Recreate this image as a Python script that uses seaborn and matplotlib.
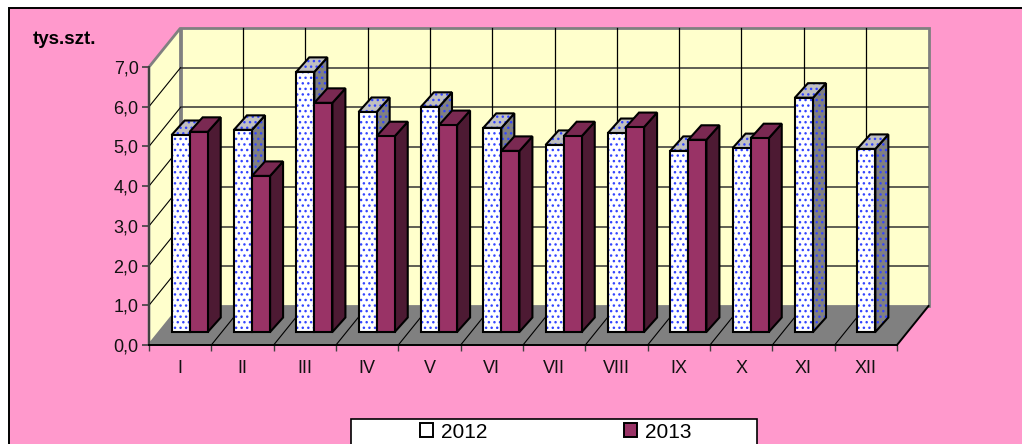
import numpy as np
import pandas as pd
import seaborn as sns
import matplotlib.pyplot as plt
from matplotlib.patches import Patch, Polygon, Rectangle
from matplotlib.transforms import Affine2D, IdentityTransform

months = ["I", "II", "III", "IV", "V", "VI", "VII", "VIII", "IX", "X", "XI", "XII"]
values_2012 = [4.96, 5.09, 6.55, 5.54, 5.67, 5.14, 4.71, 5.01, 4.56, 4.63, 5.90, 4.61]
values_2013 = [5.04, 3.93, 5.77, 4.93, 5.21, 4.56, 4.93, 5.16, 4.84, 4.88, np.nan, np.nan]
y_ticks = [0, 1, 2, 3, 4, 5, 6, 7]
y_labels = ["0,0", "1,0", "2,0", "3,0", "4,0", "5,0", "6,0", "7,0"]
years = ["2012", "2013"]

W, H = 1022, 444
PINK = "#FF99CC"
WALL = "#FFFFCC"
GREY = "#808080"
BLUE = "#3344FF"
WINE = "#993366"
WINE_SIDE = "#4D1A33"
WINE_TOP = "#7A2952"

# pixel offsets for the fake 3D
WALL_DEPTH = (31.5, 39)
BAR_SHIFT = (9.5, 13)
BAR_DEPTH = (13, 14.5)
LW = 1.5
HATCH = "..."

plt.rcParams["font.family"] = ["Liberation Sans", "DejaVu Sans"]
plt.rcParams["hatch.linewidth"] = 1.0

df = pd.DataFrame({
    "month": months * 2,
    "year": ["2012"] * 12 + ["2013"] * 12,
    "value": values_2012 + values_2013,
})

fig = plt.figure(figsize=(W / 100, H / 100), dpi=100, facecolor="white")

# pink panel runs off the right and bottom of the picture
fig.add_artist(Rectangle((9 / W, -0.1), 1.1, 1.1 - 8 / H, transform=fig.transFigure,
                         facecolor=PINK, edgecolor="black", linewidth=1.4, zorder=-1))

ax = fig.add_axes([149 / W, (H - 345) / H, 748 / W, 278 / H])
ax.patch.set_visible(False)

sns.barplot(data=df, x="month", y="value", hue="year", order=months, hue_order=years,
            palette=["white", WINE], width=0.58, gap=0, saturation=1, legend=False,
            edgecolor="black", linewidth=LW, ax=ax)

ax.set_xlim(-0.5, 11.5)
ax.set_ylim(0, 7)
ax.set_xlabel("")
ax.set_ylabel("")


def shifted(dx, dy):
    return ax.transData + Affine2D().translate(dx, dy)


def to_px(x, y, depth=(0, 0)):
    px = ax.transData.transform((x, y))
    return (px[0] + depth[0], px[1] + depth[1])


def face(points, color, z, hatch=None):
    if hatch:
        ax.add_patch(Polygon(points, closed=True, transform=IdentityTransform(), facecolor=color,
                             edgecolor=BLUE, linewidth=0, hatch=hatch, zorder=z, clip_on=False))
        color = "none"
    ax.add_patch(Polygon(points, closed=True, transform=IdentityTransform(), facecolor=color,
                         edgecolor="black", linewidth=LW, joinstyle="miter", zorder=z, clip_on=False))


# back wall
left, right = -0.5, 11.5
ax.add_patch(Rectangle((left, 0), 12, 7, transform=shifted(*WALL_DEPTH), facecolor=WALL,
                       edgecolor=GREY, linewidth=2, zorder=0.5, clip_on=False))
# side wall
ax.add_patch(Polygon([to_px(left, 0), to_px(left, 7), to_px(left, 7, WALL_DEPTH), to_px(left, 0, WALL_DEPTH)],
                     transform=IdentityTransform(), facecolor=WALL, edgecolor=GREY, linewidth=2,
                     zorder=0.6, clip_on=False))

for y in y_ticks[1:-1]:
    ax.plot([left, right], [y, y], transform=shifted(*WALL_DEPTH), color="#333333", lw=1.1,
            zorder=0.7, clip_on=False)
    a, b = to_px(left, y), to_px(left, y, WALL_DEPTH)
    ax.plot([a[0], b[0]], [a[1], b[1]], transform=IdentityTransform(), color="black", lw=0.8,
            zorder=0.7, clip_on=False)
for x in np.arange(left + 1, right):
    ax.plot([x, x], [0, 7], transform=shifted(*WALL_DEPTH), color="black", lw=0.9,
            zorder=0.7, clip_on=False)

# floor
ax.add_patch(Polygon([to_px(left, 0), to_px(right, 0), to_px(right, 0, WALL_DEPTH), to_px(left, 0, WALL_DEPTH)],
                     transform=IdentityTransform(), facecolor=GREY, edgecolor="none", zorder=0.8, clip_on=False))
for x in np.arange(left + 1, right + 1):
    a, b = to_px(x, 0), to_px(x, 0, WALL_DEPTH)
    ax.plot([a[0], b[0]], [a[1], b[1]], transform=IdentityTransform(), color="black",
            lw=1.4 if x == right else 0.8, zorder=0.9, clip_on=False)

# bars: seaborn draws the front faces, side and top come from those patches
for i, container in enumerate(ax.containers):
    for bar in container:
        x0, x1 = bar.get_x(), bar.get_x() + bar.get_width()
        v = bar.get_height()
        bar.set_transform(shifted(*BAR_SHIFT))
        bar.set_clip_on(False)
        bar.set_zorder(3 + 2 * i)
        a = to_px(x0, v, BAR_SHIFT)
        b = to_px(x1, v, BAR_SHIFT)
        c = to_px(x1, 0, BAR_SHIFT)
        dx, dy = BAR_DEPTH
        top = [a, b, (b[0] + dx, b[1] + dy), (a[0] + dx, a[1] + dy)]
        side = [b, c, (c[0] + dx, c[1] + dy), (b[0] + dx, b[1] + dy)]
        if i == 0:
            face(side, GREY, 2 + 2 * i, HATCH)
            face(top, "#C0C0C0", 2 + 2 * i, HATCH)
            # hatch layer in blue, black outline on top
            bar.set_edgecolor(BLUE)
            bar.set_linewidth(0)
            bar.set_hatch(HATCH)
            ax.add_patch(Rectangle((x0, 0), x1 - x0, v, transform=shifted(*BAR_SHIFT), fill=False,
                                   edgecolor="black", linewidth=LW, zorder=3 + 2 * i, clip_on=False))
        else:
            face(side, WINE_SIDE, 2 + 2 * i)
            face(top, WINE_TOP, 2 + 2 * i)

# axes furniture
sns.despine(ax=ax)
ax.spines["left"].set_color("#404040")
ax.spines["left"].set_linewidth(1.4)
ax.spines["bottom"].set_color("black")
ax.spines["bottom"].set_linewidth(1.4)
ax.spines["left"].set_zorder(10)
ax.spines["bottom"].set_zorder(10)
ax.set_yticks(y_ticks, y_labels)
ax.tick_params(axis="y", length=5, width=1.2, color="#404040", pad=2.5, labelsize=13, labelcolor="#111111")
ax.set_xticks(np.arange(left, right + 1))
ax.set_xticklabels([])
ax.set_xticks(np.arange(12), months, minor=True)
ax.tick_params(axis="x", which="major", length=4, width=1, color="#404040")
ax.tick_params(axis="x", which="minor", length=0, pad=10.5, labelsize=13, labelcolor="#111111")

fig.text(33 / W, (H - 40) / H, "tys.szt.", fontsize=13.5, fontweight="bold", va="center", ha="left")

# legend box runs off the bottom edge
fig.add_artist(Rectangle((351 / W, -0.1), 406 / W, 0.1 + (H - 419) / H, transform=fig.transFigure,
                         facecolor="white", edgecolor="black", linewidth=1.2))
handles = [Patch(facecolor="white", edgecolor="black", linewidth=1.4),
           Patch(facecolor=WINE, edgecolor="black", linewidth=1.4)]
fig.legend(handles, years, ncol=2, frameon=False, loc="center left",
           bbox_to_anchor=(420 / W, (H - 432) / H), borderpad=0, borderaxespad=0,
           fontsize=15, handlelength=0.62, handleheight=0.62, handletextpad=0.38,
           columnspacing=6.55)

fig.savefig("out.png", dpi=100, facecolor="white")
